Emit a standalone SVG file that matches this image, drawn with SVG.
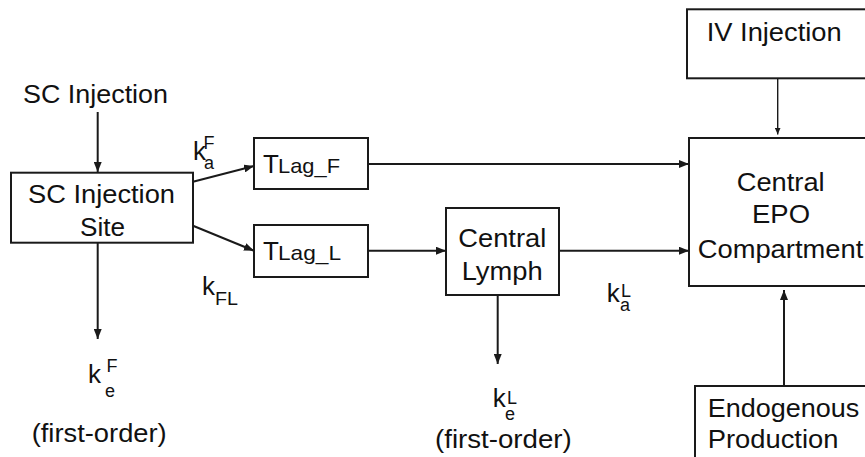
<svg xmlns="http://www.w3.org/2000/svg" width="865" height="457" viewBox="0 0 865 457">
<style>
text{font-family:"Liberation Sans",Arial,sans-serif;fill:#111;}
.t{font-size:26px;}
.k{font-size:26px;}
.s{font-size:18px;}
.lag{font-size:21px;}
.box{fill:none;stroke:#1a1a1a;stroke-width:2;}
.c{fill:none;stroke:#1a1a1a;stroke-width:2;marker-end:url(#ah);}
.thin{fill:none;stroke:#1a1a1a;stroke-width:1.4;marker-end:url(#ahs);}
</style>
<defs>
<marker id="ah" markerUnits="userSpaceOnUse" markerWidth="10" markerHeight="8" refX="10" refY="4" orient="auto">
<path d="M0,0 L10,4 L0,8 z" fill="#1a1a1a"/>
</marker>
<marker id="ahs" markerUnits="userSpaceOnUse" markerWidth="7" markerHeight="6" refX="7" refY="3" orient="auto">
<path d="M0,0 L7,3 L0,6 z" fill="#1a1a1a"/>
</marker>
</defs>
<rect width="865" height="457" fill="#fff"/>

<g id="connectors">
<line class="c" x1="97.7" y1="112" x2="97.7" y2="172"/>
<line class="c" x1="193" y1="181.7" x2="254" y2="166"/>
<line class="c" x1="193" y1="225.7" x2="254" y2="250.7"/>
<line class="c" x1="368" y1="164" x2="689" y2="164"/>
<line class="c" x1="368" y1="250.7" x2="446" y2="250.7"/>
<line class="c" x1="559" y1="250.7" x2="689" y2="250.7"/>
<line class="c" x1="97.7" y1="243" x2="97.7" y2="339"/>
<line class="c" x1="497.7" y1="295" x2="497.7" y2="364"/>
<line class="thin" x1="777.7" y1="78" x2="777.7" y2="134.5"/>
<line class="c" x1="784" y1="386" x2="784" y2="290"/>
</g>

<g id="sc-injection">
<text class="t" x="23" y="103" textLength="145" lengthAdjust="spacingAndGlyphs">SC Injection</text>
</g>

<g id="sc-site">
<rect class="box" x="11" y="172.7" width="182" height="70"/>
<text class="t" x="28" y="203" textLength="147" lengthAdjust="spacingAndGlyphs">SC Injection</text>
<text class="t" x="80" y="236" textLength="45" lengthAdjust="spacingAndGlyphs">Site</text>
</g>

<g id="tlag-f">
<rect class="box" x="254" y="138" width="114" height="51"/>
<text x="263" y="172.7"><tspan class="t">T</tspan><tspan class="lag" x="278" textLength="62" lengthAdjust="spacingAndGlyphs">Lag_F</tspan></text>
</g>

<g id="tlag-l">
<rect class="box" x="254" y="225" width="114" height="52"/>
<text x="263" y="260"><tspan class="t">T</tspan><tspan class="lag" x="278" textLength="63" lengthAdjust="spacingAndGlyphs">Lag_L</tspan></text>
</g>

<g id="central-lymph">
<rect class="box" x="446" y="208" width="113" height="87"/>
<text class="t" x="458.3" y="246.7" textLength="88" lengthAdjust="spacingAndGlyphs">Central</text>
<text class="t" x="461.7" y="280" textLength="81" lengthAdjust="spacingAndGlyphs">Lymph</text>
</g>

<g id="central-epo">
<rect class="box" x="689" y="138" width="200" height="148"/>
<text class="t" x="736.7" y="190.7" textLength="88" lengthAdjust="spacingAndGlyphs">Central</text>
<text class="t" x="752" y="223" textLength="58" lengthAdjust="spacingAndGlyphs">EPO</text>
<text class="t" x="697.7" y="257.7" textLength="165.6" lengthAdjust="spacingAndGlyphs">Compartment</text>
</g>

<g id="iv-injection">
<rect class="box" x="687" y="9.3" width="200" height="69"/>
<text class="t" x="706.7" y="40.5" textLength="135" lengthAdjust="spacingAndGlyphs">IV Injection</text>
</g>

<g id="endogenous">
<rect class="box" x="695" y="386" width="200" height="90"/>
<text class="t" x="707.7" y="416.7" textLength="151.7" lengthAdjust="spacingAndGlyphs">Endogenous</text>
<text class="t" x="707.7" y="448.3" textLength="130.7" lengthAdjust="spacingAndGlyphs">Production</text>
</g>

<g id="labels">
<text x="193" y="159.5"><tspan class="k">k</tspan><tspan class="s" x="203.5" y="148.5">F</tspan><tspan class="s" x="204" y="169">a</tspan></text>

<text x="202" y="295"><tspan class="k">k</tspan><tspan class="s" x="215" y="305" textLength="23" lengthAdjust="spacingAndGlyphs">FL</tspan></text>

<text x="88" y="383"><tspan class="k">k</tspan><tspan class="s" x="106.5" y="372">F</tspan><tspan class="s" x="105" y="397">e</tspan></text>
<text class="t" x="31.7" y="441.5" textLength="135" lengthAdjust="spacingAndGlyphs">(first-order)</text>

<text x="492.7" y="406.7"><tspan class="k">k</tspan><tspan class="s" x="507" y="403.5">L</tspan><tspan class="s" x="505" y="420">e</tspan></text>
<text class="t" x="435" y="447.5" textLength="136.7" lengthAdjust="spacingAndGlyphs">(first-order)</text>

<text x="606.7" y="301.7"><tspan class="k">k</tspan><tspan class="s" x="621" y="297">L</tspan><tspan class="s" x="620" y="310.7">a</tspan></text>
</g>
</svg>
